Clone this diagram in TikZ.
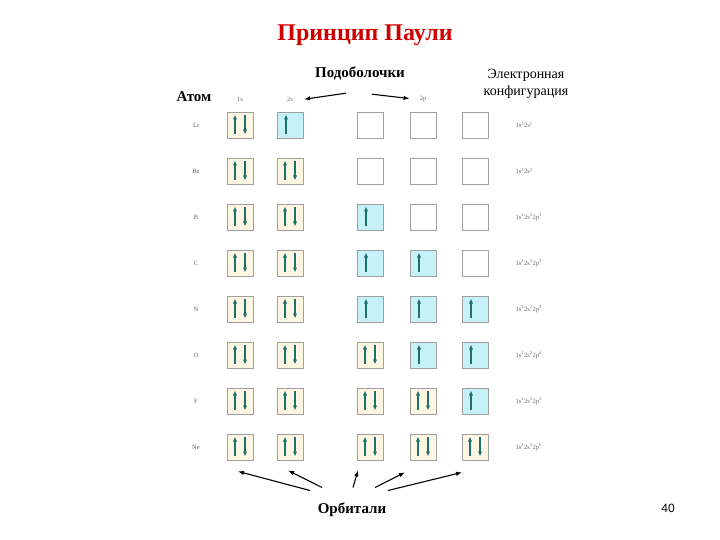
\documentclass[tikz,border=0pt]{standalone}
\usepackage{fontspec}
\setmainfont{Liberation Serif}
\setsansfont{Liberation Sans}
\usetikzlibrary{arrows.meta, positioning}
\definecolor{titlered}{HTML}{D00000}
\definecolor{spinteal}{HTML}{1E7070}
\definecolor{singlefill}{HTML}{C6F1F8}
\definecolor{pairfill}{HTML}{FCF6E2}

\begin{document}
\begin{tikzpicture}[x=1pt, y=-1pt,
    orb/.style={rectangle, draw=gray!75, line width=0.8pt, minimum size=26pt, inner sep=0pt},
    spin/.style={-{Triangle[length=4.5pt, width=3.6pt]}, line width=1.4pt, draw=spinteal},
    orb0/.style={orb, fill=white},
    orb1/.style={orb, fill=singlefill, path picture={
        \draw[spin] ([xshift=-4pt, yshift=-9pt]path picture bounding box.center) -- ++(0,19pt);}},
    orb2/.style={orb, fill=pairfill, path picture={
        \draw[spin] ([xshift=-5pt, yshift=-9pt]path picture bounding box.center) -- ++(0,19pt);
        \draw[spin] ([xshift=5pt, yshift=10pt]path picture bounding box.center) -- ++(0,-19pt);}},
    tiny/.style={font=\fontsize{6.5}{7}\selectfont, text=gray!80!black, inner sep=1pt},
    head/.style={font=\fontsize{15}{16}\selectfont, align=center},
    pointer/.style={-{Latex[length=6pt, width=4.5pt]}, line width=1.1pt}
]
\useasboundingbox (0,0) rectangle (720,540);

% Title
\node[font=\fontsize{24}{28}\selectfont\bfseries, text=titlered] (title) at (365,35) {Принцип Паули};

% Rows of orbitals
\foreach \el/\st/\cfg [count=\i] in {
    Li/{2,1,0,0,0}/{1s^22s^1},
    Be/{2,2,0,0,0}/{1s^22s^2},
    B/{2,2,1,0,0}/{1s^22s^22p^1},
    C/{2,2,1,1,0}/{1s^22s^22p^2},
    N/{2,2,1,1,1}/{1s^22s^22p^3},
    O/{2,2,2,1,1}/{1s^22s^22p^4},
    F/{2,2,2,2,1}/{1s^22s^22p^5},
    Ne/{2,2,2,2,2}/{1s^22s^22p^6}} {
  \pgfmathsetmacro\ry{125+(\i-1)*46}
  \foreach \s [count=\j] in \st {
    \pgfmathsetmacro\cx{{240,290,370,423,475}[\j-1]}
    \node[orb\s] (r\i c\j) at (\cx,\ry) {};
  }
  \node[tiny] (el\i) at (196,\ry) {\el};
  \node[tiny, anchor=west, right=26pt of r\i c5] (cfg\i) {$\mathrm{\cfg}$};
}

% Column headers
\node[tiny, above=9pt of r1c1] (h1s) {1s};
\node[tiny, above=9pt of r1c2] (h2s) {2s};
\node[tiny, above=9pt of r1c4] (h2p) {2p};

\node[head, font=\fontsize{15}{16}\selectfont\bfseries] (sub) at (360,73) {Подоболочки};
\node[head, font=\fontsize{15}{16}\selectfont\bfseries] (atom) at (194,97) {Атом};
\node[head, font=\fontsize{14}{17}\selectfont] (conf) at (526,84) {Электронная\\конфигурация};

\draw[pointer] ([xshift=-14pt, yshift=-10pt]sub.south) -- ([xshift=10pt]h2s.east);
\draw[pointer] ([xshift=12pt, yshift=-11pt]sub.south) -- ([xshift=-9pt]h2p.west);

% Orbitals
\node[head, font=\fontsize{15}{16}\selectfont\bfseries] (orbs) at (352,510) {Орбитали};
\draw[pointer] ([xshift=-42pt, yshift=9pt]orbs.north) -- ([xshift=-2pt, yshift=-11pt]r8c1.south);
\draw[pointer] ([xshift=-30pt, yshift=12pt]orbs.north) -- ([xshift=-2pt, yshift=-10pt]r8c2.south);
\draw[pointer] ([xshift=1pt, yshift=12pt]orbs.north) -- ([xshift=-12pt, yshift=-10pt]r8c3.south);
\draw[pointer] ([xshift=23pt, yshift=12pt]orbs.north) -- ([xshift=-18pt, yshift=-12pt]r8c4.south);
\draw[pointer] ([xshift=36pt, yshift=9pt]orbs.north) -- ([xshift=-13pt, yshift=-12pt]r8c5.south);

% Page number
\node[font=\sffamily\fontsize{12}{14}\selectfont] (page) at (668,508) {40};
\end{tikzpicture}
\end{document}
